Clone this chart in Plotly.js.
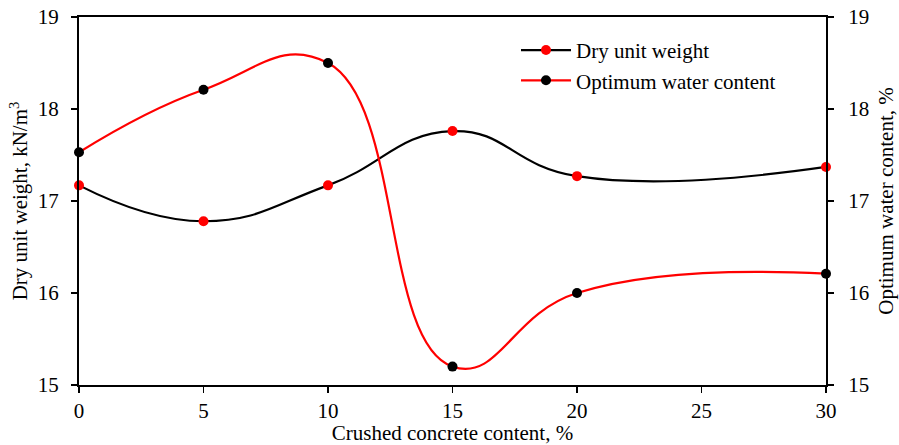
<!DOCTYPE html>
<html>
<head>
<meta charset="utf-8">
<script src="https://cdn.plot.ly/plotly-3.0.1.min.js"></script>
<style>html,body{margin:0;padding:0;background:#fff}#chart{width:899px;height:445px}</style>
</head>
<body>
<div id="chart"></div>
<script>
const crushedConcrete = [0, 5, 10, 15, 20, 30];
const dryUnitWeight = [17.17, 16.78, 17.17, 17.76, 17.27, 17.37];
const optimumWater = [17.53, 18.21, 18.5, 15.2, 16.0, 16.21];
const xTicks = [0, 5, 10, 15, 20, 25, 30];
const yTicks = [15, 16, 17, 18, 19];

const font = {family: 'Liberation Serif', color: '#000'};
const f = s => Object.assign({size: s}, font);

const traces = [
  {
    x: crushedConcrete, y: dryUnitWeight, name: 'Dry unit weight',
    mode: 'lines+markers', type: 'scatter',
    line: {color: '#000', width: 2.2, shape: 'spline', smoothing: 1.3},
    marker: {color: '#ff0000', size: 10},
    yaxis: 'y', cliponaxis: false
  },
  {
    x: crushedConcrete, y: optimumWater, name: 'Optimum water content',
    mode: 'lines+markers', type: 'scatter',
    line: {color: '#ff0000', width: 2.2, shape: 'spline', smoothing: 1.3},
    marker: {color: '#000', size: 10},
    yaxis: 'y2', cliponaxis: false
  }
];

const layout = {
  width: 899, height: 445,
  margin: {l: 79, r: 73, t: 17, b: 60},
  paper_bgcolor: '#fff', plot_bgcolor: '#fff',
  font: f(21),
  showlegend: true,
  legend: {x: 0.585, y: 0.965, xanchor: 'left', yanchor: 'top', bgcolor: 'rgba(0,0,0,0)',
           font: f(21), tracegroupgap: 2, itemwidth: 50},
  xaxis: {
    range: [0, 30], tickvals: xTicks, ticktext: xTicks.map(String),
    showgrid: false, zeroline: false,
    showline: true, linecolor: '#000', linewidth: 2, mirror: true,
    ticks: 'outside', ticklen: 6, tickwidth: 1.5, tickcolor: '#000',
    tickfont: f(21),
    title: {text: 'Crushed concrete content, %', font: f(21), standoff: 2}
  },
  yaxis: {
    range: [15, 19], tickvals: yTicks,
    showgrid: false, zeroline: false,
    showline: true, linecolor: '#000', linewidth: 2,
    ticks: 'outside', ticklen: 6, tickwidth: 1.5, tickcolor: '#000',
    ticklabelstandoff: 8,
    tickfont: f(21),
    title: {text: 'Dry unit weight, kN/m<sup>3</sup>', font: f(21), standoff: 4}
  },
  yaxis2: {
    range: [15, 19], tickvals: yTicks, overlaying: 'y', side: 'right',
    showgrid: false, zeroline: false,
    showline: true, linecolor: '#000', linewidth: 2,
    ticks: 'outside', ticklen: 6, tickwidth: 1.5, tickcolor: '#000',
    ticklabelstandoff: 10,
    tickfont: f(21),
    title: {text: 'Optimum water content, %', font: f(21), standoff: 10}
  },
  yaxis3: {
    range: [15, 19], tickvals: yTicks, overlaying: 'y', side: 'right',
    showgrid: false, zeroline: false, showline: false, showticklabels: false,
    ticks: 'inside', ticklen: 3, tickwidth: 1.5, tickcolor: '#000'
  }
};

Plotly.newPlot('chart', traces, layout, {staticPlot: true, displayModeBar: false});
</script>
</body>
</html>
